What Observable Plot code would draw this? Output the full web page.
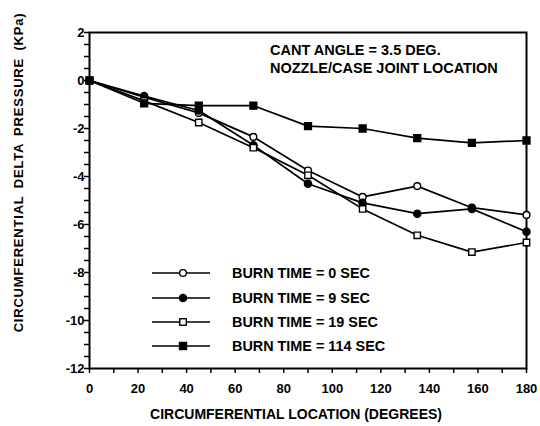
<!DOCTYPE html>
<html><head><meta charset="utf-8">
<script src="https://cdn.jsdelivr.net/npm/d3@7"></script>
<script src="https://cdn.jsdelivr.net/npm/@observablehq/plot@0.6"></script>
<style>
body{margin:0;background:#fff;}
#wrap{position:relative;width:540px;height:426px;font-family:"Liberation Sans",Arial,sans-serif;font-weight:bold;color:#000}
.note{position:absolute;left:270px;top:41px;font-size:14.5px;line-height:18px;white-space:nowrap}
.leg{position:absolute;left:152px;top:261px;font-size:14.4px;white-space:nowrap}
.row{display:flex;align-items:center;height:24.4px}
.row svg{margin-right:22px}
</style></head><body><div id="wrap"></div>
<script>
// ---- data ----
const degrees = [0, 22.5, 45, 67.5, 90, 112.5, 135, 157.5, 180];
const seriesNames = ["BURN TIME = 0 SEC", "BURN TIME = 9 SEC", "BURN TIME = 19 SEC", "BURN TIME = 114 SEC"];
const burn0   = [0, -0.7, -1.35, -2.35, -3.75, -4.85, -4.4, -5.3, -5.6];
const burn9   = [0, -0.65, -1.25, -2.7, -4.3, -5.1, -5.55, -5.35, -6.3];
const burn19  = [0, -0.85, -1.75, -2.8, -3.95, -5.35, -6.45, -7.15, -6.75];
const burn114 = [0, -0.95, -1.05, -1.05, -1.9, -2.0, -2.4, -2.6, -2.5];
const xTicks = [0, 20, 40, 60, 80, 100, 120, 140, 160, 180];
const yTicks = [2, 0, -2, -4, -6, -8, -10, -12];
const noteLines = ["CANT ANGLE = 3.5 DEG.", "NOZZLE/CASE JOINT LOCATION"];
const xLabel = "CIRCUMFERENTIAL LOCATION (DEGREES)";
const yLabel = "CIRCUMFERENTIAL DELTA PRESSURE (KPa)";

// ---- build ----
const values = [burn0, burn9, burn19, burn114];
const rows = seriesNames.flatMap((s, i) => degrees.map((d, j) => ({series: s, deg: d, p: values[i][j]})));
const markers = [
  {symbol: "circle", fill: "white", r: 3.4},
  {symbol: "circle", fill: "black", r: 3.6},
  {symbol: "square", fill: "white", r: 3.6},
  {symbol: "square", fill: "black", r: 3.9}
];

const chart = Plot.plot({
  width: 540, height: 426,
  marginLeft: 89, marginRight: 14, marginTop: 32, marginBottom: 58,
  style: {fontFamily: "'Liberation Sans', Arial, sans-serif", fontSize: "13px", fontWeight: "bold", background: "white", color: "black"},
  x: {domain: [0, 180]},
  y: {domain: [-12, 2]},
  marks: [
    Plot.axisX({ticks: d3.range(0, 181, 10), tickSize: 5, tickFormat: () => "", strokeWidth: 1.5, label: null}),
    Plot.axisX({ticks: xTicks, tickSize: 0, tickPadding: 15, tickFormat: d => String(d), label: null, fontSize: 13}),
    Plot.axisY({ticks: d3.range(-12, 2.01, 0.5), tickSize: 5, tickFormat: () => "", strokeWidth: 1.5, label: null}),
    Plot.axisY({ticks: yTicks, tickSize: 0, tickPadding: 5, tickFormat: d => String(d), label: null, fontSize: 13}),
    Plot.frame({stroke: "black", strokeWidth: 2}),
    Plot.line(rows, {x: "deg", y: "p", z: "series", stroke: "black", strokeWidth: 1.7}),
    ...seriesNames.map((s, i) => Plot.dot(rows.filter(d => d.series === s), {
      x: "deg", y: "p", symbol: markers[i].symbol, fill: markers[i].fill, r: markers[i].r, stroke: "black", strokeWidth: 1.4
    })),
    Plot.text([xLabel], {text: d => d, frameAnchor: "bottom", lineAnchor: "middle", textAnchor: "middle", dx: -12, dy: 46, fontSize: 14, fontWeight: "bold"}),
    Plot.text([yLabel], {text: d => d, frameAnchor: "left", lineAnchor: "middle", textAnchor: "middle", rotate: -90, dx: -71, dy: -28, fontSize: 13, fontWeight: "bold"})
  ]
});
chart.querySelectorAll("text").forEach(t => {
  if (t.textContent === yLabel) { t.style.letterSpacing = "0.8px"; t.style.wordSpacing = "3px"; }
});
const wrap = document.getElementById("wrap");
wrap.appendChild(chart);

const note = document.createElement("div");
note.className = "note";
note.innerHTML = noteLines.join("<br>");
wrap.appendChild(note);

const leg = document.createElement("div");
leg.className = "leg";
seriesNames.forEach((s, i) => {
  const m = markers[i];
  const row = document.createElement("div");
  row.className = "row";
  const sym = m.symbol === "circle"
    ? `<circle cx="31" cy="6" r="${m.r}" fill="${m.fill}" stroke="black" stroke-width="1.4"/>`
    : `<rect x="${31 - m.r * 0.9}" y="${6 - m.r * 0.9}" width="${m.r * 1.8}" height="${m.r * 1.8}" fill="${m.fill}" stroke="black" stroke-width="1.4"/>`;
  row.innerHTML = `<svg width="58" height="12"><line x1="0" x2="58" y1="6" y2="6" stroke="black" stroke-width="1.6"/>${sym}</svg><span>${s}</span>`;
  leg.appendChild(row);
});
wrap.appendChild(leg);
</script></body></html>
